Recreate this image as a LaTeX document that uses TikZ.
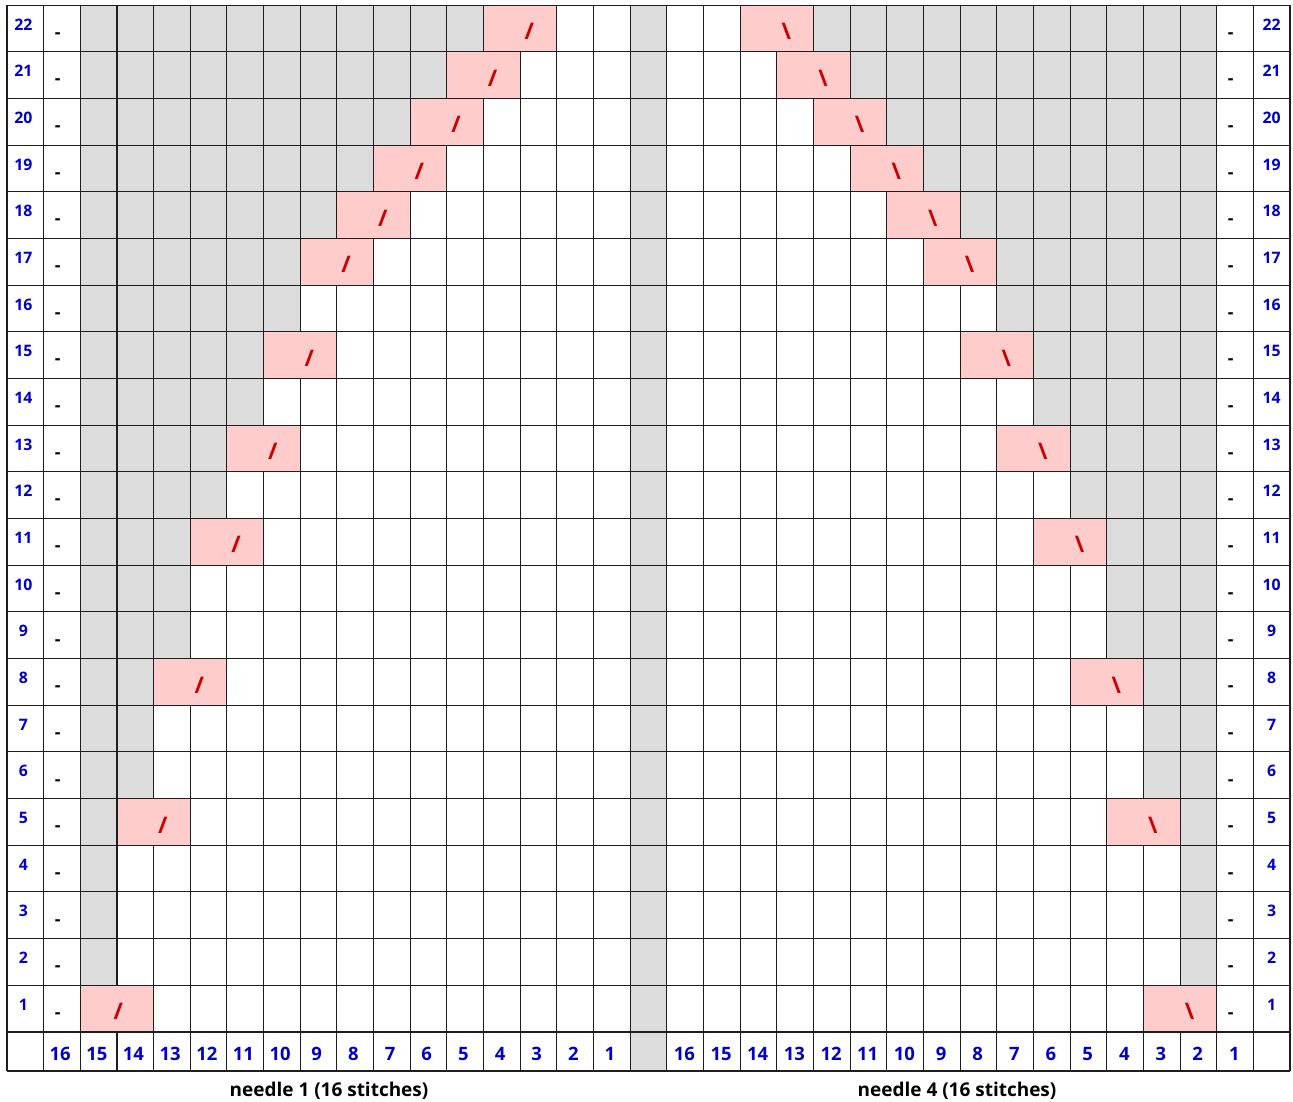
\documentclass[tikz,border=0pt]{standalone}
\usepackage{fontspec}
\setmainfont{Open Sans}
\definecolor{chgray}{HTML}{DCDCDC}
\definecolor{chpink}{HTML}{FFCCCC}
\definecolor{chred}{HTML}{CC0000}
\definecolor{chblue}{HTML}{0000CC}
\definecolor{chline}{HTML}{1E1E1E}
\tikzset{
  rnum/.style={text=chblue,font=\bfseries\fontsize{9}{10}\selectfont,inner sep=0pt,anchor=base},
  purl/.style={font=\bfseries\fontsize{10}{11}\selectfont,inner sep=0pt,anchor=base},
  colnum/.style={text=chblue,font=\bfseries\fontsize{10.5}{12}\selectfont,inner sep=0pt,anchor=base},
  dec/.style={text=chred,font=\bfseries\fontsize{13}{14}\selectfont,inner sep=0pt},
  ndl/.style={font=\bfseries\fontsize{10.8}{12}\selectfont,inner sep=0pt,anchor=base},
  gl/.style={draw=chline,line width=0.6pt},
}
\begin{document}
\begin{tikzpicture}[x=0.73314cm,y=0.9336cm]
  \useasboundingbox (-0.19096,-1.47815) rectangle (35.082,22.108);
  \fill[chgray] (17,-0.8355) rectangle (18,22);
  \foreach \r/\g in {2/1,3/1,4/1,5/1,6/2,7/2,8/2,9/3,10/3,11/3,12/4,13/4,14/5,15/5,16/6,17/6,18/7,19/8,20/9,21/10,22/11}
    {\fill[chgray] (2,\r-1) rectangle (2+\g,\r);
     \fill[chgray] (33-\g,\r-1) rectangle (33,\r);}
  \foreach \r in {0,...,22}
    {\draw[gl] (0,\r) -- (35,\r);}
  \draw[gl] (0,-0.8355) -- (35,-0.8355);
  \foreach \c in {0,...,35}
    {\draw[gl] (\c,-0.8355) -- (\c,22);}
  \foreach \r/\k/\dx in {1/1/0.04,5/2/0.25,8/3/0.25,11/4/0.25,13/5/0.25,15/6/0.25,17/7/0.25,18/8/0.25,19/9/0.25,20/10/0.25,21/11/0.25,22/12/0.25}
    {\fill[chpink] ([xshift=0.3pt,yshift=0.3pt]\k+1,\r-1) rectangle ([xshift=-0.3pt,yshift=-0.3pt]\k+3,\r);
     \fill[chpink] ([xshift=0.3pt,yshift=0.3pt]32-\k,\r-1) rectangle ([xshift=-0.3pt,yshift=-0.3pt]34-\k,\r);
     \node[dec] (decL\r) at (\k+2+\dx,\r-0.564) {/};
     \node[dec] (decR\r) at (33-\k+0.26,\r-0.564) {\textbackslash};}
  \foreach \r in {1,...,22}
    {\node[rnum] (rowL\r) at (0.445,\r-0.536) {\r};
     \node[rnum] (rowR\r) at (34.5,\r-0.536) {\r};
     \node[purl] (purlL\r) at (1.38,\r-0.71) {-};
     \node[purl] (purlR\r) at (33.38,\r-0.71) {-};}
  \foreach \c in {1,...,16}
    {\pgfmathtruncatemacro{\n}{17-\c}
     \node[colnum] (colL\n) at (\c+0.45,-0.615) {\n};
     \node[colnum] (colR\n) at (\c+17.48,-0.615) {\n};}
  \node[ndl] (ndlone) at (8.784,-1.386) {needle 1 (16 stitches)};
  \node[ndl] (ndlfour) at (25.916,-1.386) {needle 4 (16 stitches)};
\end{tikzpicture}
\end{document}
